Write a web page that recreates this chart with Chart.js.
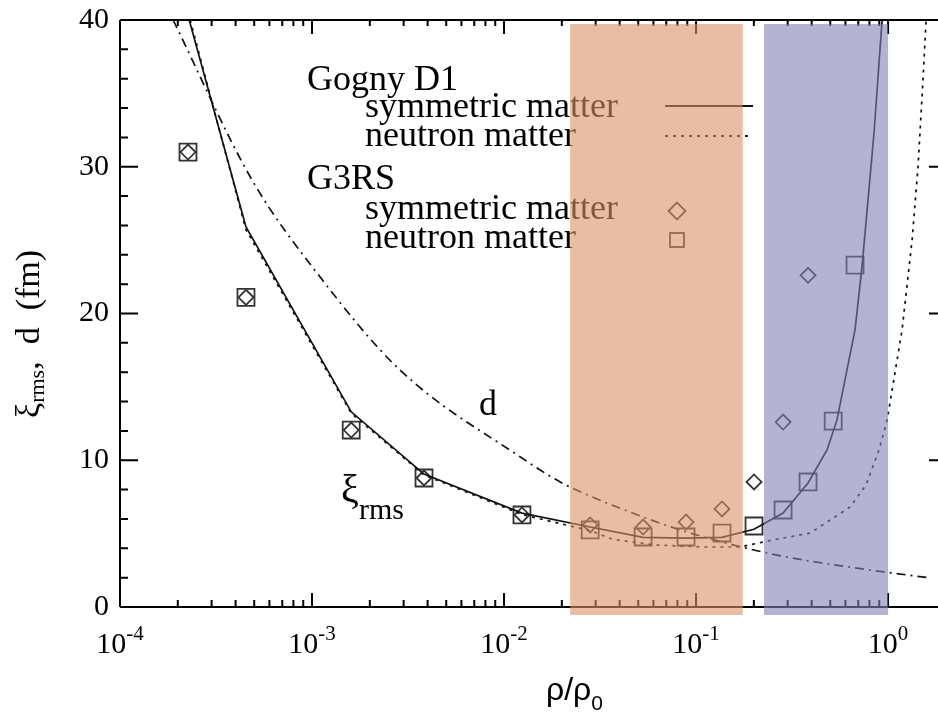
<!DOCTYPE html>
<html lang="en">
<head>
  <meta charset="UTF-8">
  <title>Pair coherence length vs density</title>
  <style>
    html, body { margin: 0; padding: 0; background: #fff; }
    canvas { display: block; }
  </style>
  <script src="https://cdn.jsdelivr.net/npm/chart.js"></script>
</head>
<body>
  <canvas id="chart" width="938" height="712"></canvas>

  <script>
    // axis ticks
    const yTicks = [0, 10, 20, 30, 40];
    const xDecades = [1e-4, 1e-3, 1e-2, 1e-1, 1];
    const xExponents = ['-4', '-3', '-2', '-1', '0'];

    // G3RS results (markers), rho/rho0
    const g3rsNeutronX = [2.26e-4, 4.53e-4, 1.60e-3, 3.83e-3, 0.0124, 0.0281, 0.0530, 0.0887, 0.1365, 0.2004, 0.284, 0.383, 0.518, 0.673];
    const g3rsNeutron = [31.0, 21.1, 12.06, 8.79, 6.27, 5.25, 4.77, 4.77, 5.04, 5.52, 6.61, 8.52, 12.67, 23.3];
    const g3rsSymmetricX = [2.26e-4, 4.53e-4, 1.60e-3, 3.83e-3, 0.0124, 0.0281, 0.0530, 0.0887, 0.1365, 0.2004, 0.284, 0.383];
    const g3rsSymmetric = [31.0, 21.1, 12.06, 8.79, 6.27, 5.59, 5.45, 5.79, 6.68, 8.52, 12.6, 22.6];

    // Gogny D1, symmetric matter (solid)
    const goSymX = [2.26e-4, 4.53e-4, 1.60e-3, 3.83e-3, 0.0124, 0.0281, 0.0530, 0.0887, 0.1365, 0.2004, 0.284, 0.383, 0.481, 0.542, 0.673, 0.733, 0.845, 0.931];
    const goSym = [40.3, 25.9, 13.3, 9.06, 6.4, 5.45, 4.75, 4.7, 4.75, 5.3, 6.4, 8.45, 10.7, 12.75, 18.9, 23.3, 32.3, 40.0];

    // Gogny D1, neutron matter (dotted)
    const goNeuX = [2.32e-4, 4.53e-4, 1.60e-3, 3.83e-3, 0.0124, 0.0281, 0.0370, 0.0627, 0.1086, 0.1694, 0.252, 0.393, 0.634, 0.767, 0.897, 0.989, 1.183, 1.334, 1.432, 1.52, 1.578];
    const goNeu = [40.0, 25.7, 13.2, 9.0, 6.3, 5.2, 4.6, 4.22, 4.09, 4.09, 4.57, 5.04, 6.81, 8.31, 10.7, 12.74, 18.88, 25.0, 29.98, 35.9, 40.0];

    // inter-particle distance d (dash-dot)
    const distX = [1.89e-4, 4.87e-4, 1.10e-3, 2.87e-3, 0.0124, 0.0196, 0.0305, 0.0438, 0.0796, 0.1637, 0.264, 0.393, 0.806, 1.655];
    const dist = [40.0, 29.1, 22.5, 16.15, 10.15, 8.52, 7.36, 6.54, 5.32, 4.16, 3.54, 3.13, 2.52, 1.98];

    // shaded density windows
    const bandFrom = [0.0221, 0.226];
    const bandTo = [0.175, 1.0];
    const bandColors = ['rgba(217, 145, 103, 0.6)', 'rgba(130, 130, 180, 0.6)'];

    const pts = (xs, ys) => xs.map((x, i) => ({ x: x, y: ys[i] }));

    const SERIF = '"Liberation Serif", "Times New Roman", serif';

    function diamond(ctx, x, y, r) {
      ctx.beginPath();
      ctx.moveTo(x - r, y); ctx.lineTo(x, y - r);
      ctx.lineTo(x + r, y); ctx.lineTo(x, y + r);
      ctx.closePath();
      ctx.stroke();
    }

    // frame, inward ticks, labels, legend
    const frame = {
      id: 'frame',
      beforeDatasetsDraw(chart) {
        const { ctx, chartArea: a, scales } = chart;
        const xs = scales.x, ys = scales.y;
        ctx.save();
        ctx.strokeStyle = '#000';
        ctx.lineWidth = 2;
        ctx.beginPath();
        ctx.moveTo(a.left, a.top); ctx.lineTo(a.right, a.top);
        ctx.moveTo(a.left, a.top); ctx.lineTo(a.left, a.bottom);
        ctx.moveTo(a.left, a.bottom); ctx.lineTo(a.right, a.bottom);

        // y ticks (minor every 2)
        for (let v = 0; v <= 40; v += 2) {
          const py = ys.getPixelForValue(v);
          const major = v % 10 === 0;
          ctx.moveTo(a.left, py); ctx.lineTo(a.left + (major ? 18 : 8), py);
          if (major) { ctx.moveTo(a.right, py); ctx.lineTo(a.right - 9, py); }
        }
        // x ticks
        xDecades.forEach(d => {
          const px = xs.getPixelForValue(d);
          ctx.moveTo(px, a.bottom); ctx.lineTo(px, a.bottom - 14);
          ctx.moveTo(px, a.top); ctx.lineTo(px, a.top + 14);
          for (let m = 2; m <= 9; m++) {
            if (m * d > xs.max) break;
            const pm = xs.getPixelForValue(m * d);
            ctx.moveTo(pm, a.bottom); ctx.lineTo(pm, a.bottom - 7);
            ctx.moveTo(pm, a.top); ctx.lineTo(pm, a.top + 6);
          }
        });
        ctx.stroke();

        // tick labels
        ctx.fillStyle = '#000';
        ctx.font = '30px ' + SERIF;
        ctx.textAlign = 'right';
        ctx.textBaseline = 'middle';
        yTicks.forEach(v => ctx.fillText(String(v), a.left - 11, ys.getPixelForValue(v)));

        ctx.textAlign = 'left';
        ctx.textBaseline = 'alphabetic';
        xDecades.forEach((d, i) => {
          const px = xs.getPixelForValue(d);
          ctx.font = '30px ' + SERIF;
          const w1 = ctx.measureText('10').width;
          ctx.font = '21px ' + SERIF;
          const w2 = ctx.measureText(xExponents[i]).width;
          const x0 = px - (w1 + w2) / 2;
          ctx.font = '30px ' + SERIF;
          ctx.fillText('10', x0, 653);
          ctx.font = '21px ' + SERIF;
          ctx.fillText(xExponents[i], x0 + w1, 640);
        });

        // x title
        ctx.font = '32px "Liberation Sans", Arial, sans-serif';
        ctx.fillText('ρ/ρ', 546, 700);
        const wr = ctx.measureText('ρ/ρ').width;
        ctx.font = '21px "Liberation Sans", Arial, sans-serif';
        ctx.fillText('0', 546 + wr, 710);

        // y title, rotated
        ctx.save();
        ctx.translate(39, 418);
        ctx.rotate(-Math.PI / 2);
        let cx = 0;
        ctx.font = '34px ' + SERIF;
        ctx.fillText('ξ', cx, 0); cx += ctx.measureText('ξ').width;
        ctx.font = '22px ' + SERIF;
        ctx.fillText('rms', cx, 5); cx += ctx.measureText('rms').width;
        ctx.font = '34px ' + SERIF;
        ctx.fillText(',  d  (fm)', cx, 0);
        ctx.restore();

        // curve annotations
        ctx.font = '36px ' + SERIF;
        ctx.fillText('d', 479, 415);
        ctx.font = '40px ' + SERIF;
        ctx.fillText('ξ', 341, 502);
        ctx.font = '30px ' + SERIF;
        ctx.fillText('rms', 359, 519);

        // legend
        ctx.font = '36px ' + SERIF;
        ctx.fillText('Gogny D1', 307, 90);
        ctx.fillText('symmetric matter', 365, 117);
        ctx.fillText('neutron matter', 365, 146);
        ctx.fillText('G3RS', 307, 189);
        ctx.fillText('symmetric matter', 365, 219);
        ctx.fillText('neutron matter', 365, 248);

        ctx.strokeStyle = '#111';
        ctx.lineWidth = 1.8;
        ctx.beginPath(); ctx.moveTo(665, 106); ctx.lineTo(753, 106); ctx.stroke();
        ctx.setLineDash([3, 5]);
        ctx.beginPath(); ctx.moveTo(665, 136); ctx.lineTo(753, 136); ctx.stroke();
        ctx.setLineDash([]);
        ctx.strokeStyle = '#333';
        diamond(ctx, 677, 211, 8.5);
        ctx.strokeRect(670, 233, 14, 14);
        ctx.restore();
      }
    };

    // semi-transparent density windows drawn over everything
    const bands = {
      id: 'bands',
      afterDatasetsDraw(chart) {
        const { ctx, chartArea: a, scales } = chart;
        ctx.save();
        bandFrom.forEach((from, i) => {
          const x0 = scales.x.getPixelForValue(from);
          const x1 = scales.x.getPixelForValue(bandTo[i]);
          ctx.fillStyle = bandColors[i];
          ctx.fillRect(x0, a.top + 4, x1 - x0, a.bottom - a.top + 4);
        });
        ctx.restore();
      }
    };

    const lineStyle = { borderColor: '#111', borderWidth: 1.7, pointRadius: 0, showLine: true, fill: false };

    new Chart(document.getElementById('chart'), {
      type: 'scatter',
      data: {
        datasets: [
          Object.assign({ label: 'Gogny D1 symmetric matter', data: pts(goSymX, goSym), tension: 0 }, lineStyle),
          Object.assign({ label: 'Gogny D1 neutron matter', data: pts(goNeuX, goNeu), tension: 0, borderDash: [3, 5] }, lineStyle),
          Object.assign({ label: 'd', data: pts(distX, dist), cubicInterpolationMode: 'monotone', borderDash: [9, 5, 2, 5] }, lineStyle),
          {
            label: 'G3RS symmetric matter',
            data: pts(g3rsSymmetricX, g3rsSymmetric),
            pointStyle: 'rectRot', pointRadius: 7.5,
            borderColor: '#333', borderWidth: 1.8, backgroundColor: 'rgba(0,0,0,0)'
          },
          {
            label: 'G3RS neutron matter',
            data: pts(g3rsNeutronX, g3rsNeutron),
            pointStyle: 'rect', pointRadius: 12,
            borderColor: '#333', borderWidth: 1.8, backgroundColor: 'rgba(0,0,0,0)'
          }
        ]
      },
      options: {
        responsive: false,
        animation: false,
        devicePixelRatio: 1,
        layout: { autoPadding: false, padding: { left: 120, top: 20, right: 0, bottom: 105 } },
        plugins: { legend: { display: false }, tooltip: { enabled: false } },
        events: [],
        scales: {
          x: { type: 'logarithmic', min: 1e-4, max: 1.82, display: false },
          y: { type: 'linear', min: 0, max: 40, display: false }
        }
      },
      plugins: [frame, bands]
    });
  </script>
</body>
</html>
